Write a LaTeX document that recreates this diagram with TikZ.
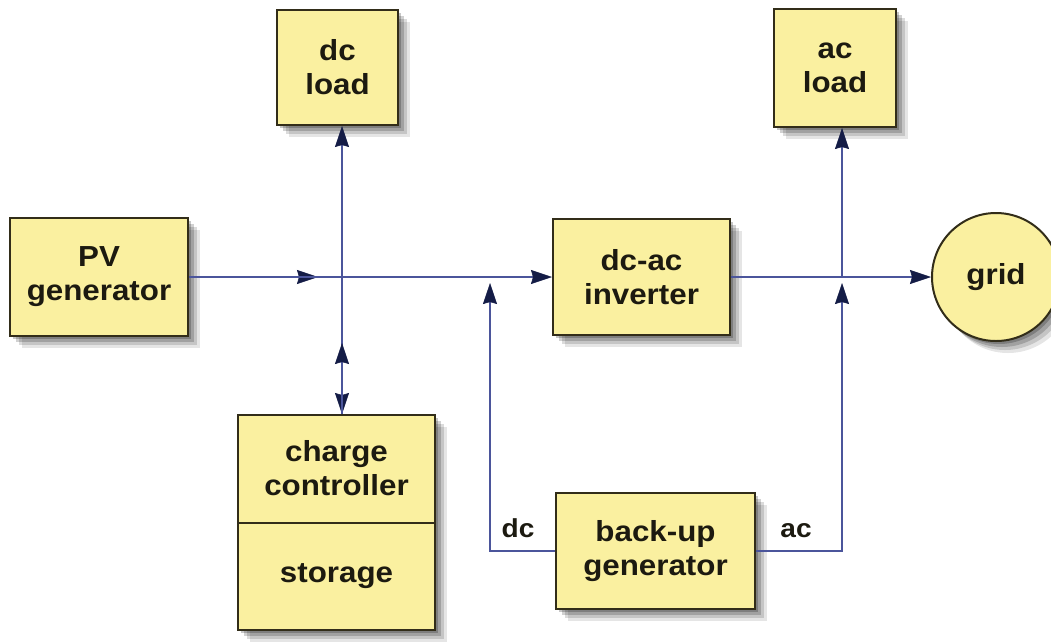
\documentclass[tikz,border=0pt]{standalone}
\usepackage{fontspec}
\setmainfont{Liberation Sans}[FakeStretch=1.08]
\usetikzlibrary{arrows.meta,shadows}
\definecolor{boxfill}{RGB}{250,240,160}
\definecolor{boxdraw}{RGB}{50,45,25}
\definecolor{linecol}{RGB}{75,85,155}
\definecolor{tipcol}{RGB}{20,28,70}
\definecolor{txt}{RGB}{28,26,16}
\tikzset{
 box/.style={draw=boxdraw, line width=2pt, fill=boxfill,
   font=\fontsize{29}{34}\selectfont\bfseries, text=txt, align=center, inner sep=0pt,
   drop shadow={shadow xshift=12pt, shadow yshift=-12pt, opacity=0.10, fill=black},
   drop shadow={shadow xshift=9pt, shadow yshift=-9pt, opacity=0.14, fill=black},
   drop shadow={shadow xshift=6pt, shadow yshift=-6pt, opacity=0.18, fill=black},
   drop shadow={shadow xshift=3pt, shadow yshift=-3pt, opacity=0.22, fill=black}},
 boxtext/.style={font=\fontsize{29}{34}\selectfont\bfseries, text=txt, align=center, inner sep=0pt},
 conn/.style={draw=linecol, line width=1.6pt,
   -{Stealth[length=21pt,width=14pt,inset=2pt,fill=tipcol,color=tipcol,line width=0.5pt]}},
 lbl/.style={font=\fontsize{26}{30}\selectfont\bfseries, text=txt, inner sep=0pt}
}
\begin{document}
\begin{tikzpicture}[x=1pt,y=-1pt]
\useasboundingbox (0,0) rectangle (1051,643);
\clip (0,0) rectangle (1051,643);
% nodes
\node[box, minimum width=178pt, minimum height=118pt] (pv) at (99,277) {PV\\generator};
\node[box, minimum width=121pt, minimum height=115pt] (dcload) at (337.5,67.5) {dc\\load};
\node[box, minimum width=122pt, minimum height=118pt] (acload) at (835,68) {ac\\load};
\node[box, minimum width=177pt, minimum height=116pt] (inv) at (641.5,277) {dc-ac\\inverter};
\node[box, circle, minimum size=128pt] (grid) at (996,277) {grid};
\node[box, minimum width=197pt, minimum height=215pt] (cc) at (336.5,522.5) {};
\draw[draw=boxdraw, line width=2pt] (cc.west) -- (cc.east);
\node[boxtext] (cctext) at (336.5,468.5) {charge\\controller};
\node[boxtext] (sttext) at (336.5,576) {storage};
\node[box, minimum width=199pt, minimum height=116pt] (bu) at (655.5,551) {back-up\\generator};
\node[lbl, anchor=base] (dclbl) at (518,537) {dc};
\node[lbl, anchor=base] (aclbl) at (796,537) {ac};
% junctions and arrow tips
\coordinate (j1) at (342,277);
\coordinate (j2) at (842,277);
\coordinate (m1) at (318,277);
\coordinate (m2) at (342,343);
\coordinate (m3) at (490,283);
\coordinate (m4) at (842,283);
% connectors
\draw[conn] (pv.east) -- (m1);
\draw[conn] (pv.east) -- (inv.west);
\draw[conn] (inv.east) -- (grid.west);
\draw[conn] (j1) -- (j1 |- dcload.south);
\draw[conn] (j1) -- (j1 |- cc.north);
\draw[conn] (j1 |- cc.north) -- (m2);
\draw[conn] (j2) -- (j2 |- acload.south);
\draw[conn] (bu.west) -| (m3);
\draw[conn] (bu.east) -| (m4);
\end{tikzpicture}
\end{document}
